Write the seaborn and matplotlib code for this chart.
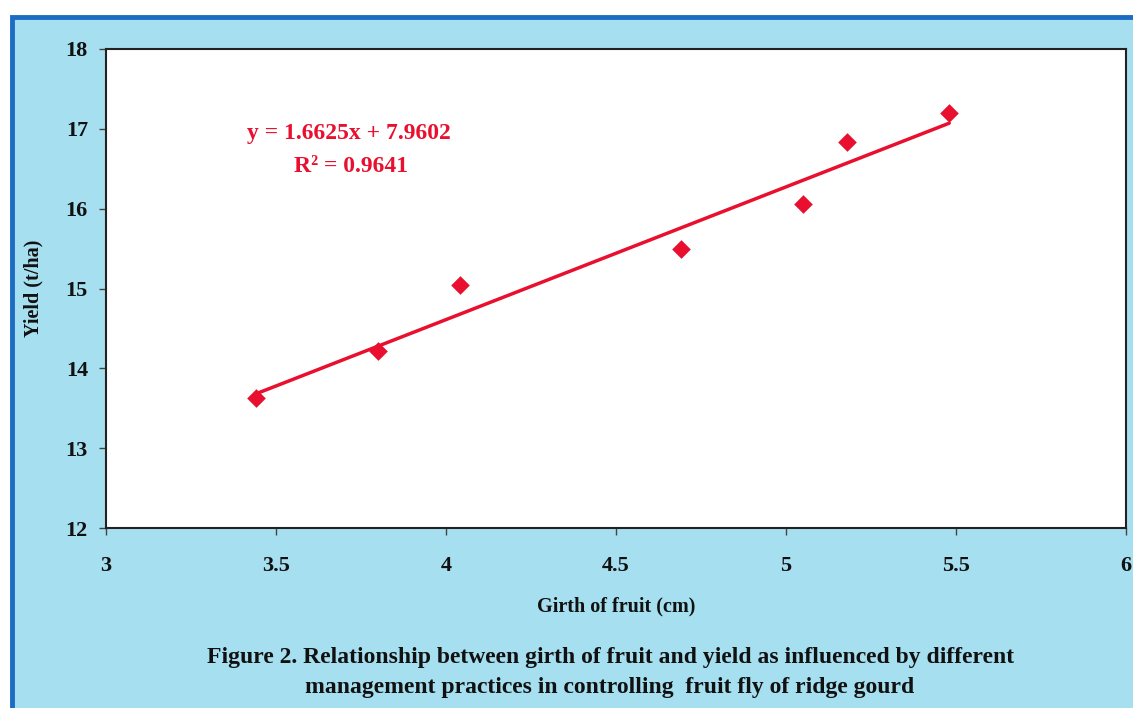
import numpy as np
import pandas as pd
import matplotlib
matplotlib.use("Agg")
import matplotlib.pyplot as plt
from matplotlib.patches import Rectangle
import seaborn as sns

# Data
girth = [3.44, 3.80, 4.04, 4.69, 5.05, 5.18, 5.48]
yield_tha = [13.63, 14.22, 15.04, 15.49, 16.06, 16.83, 17.20]
slope = 1.6625
intercept = 7.9602
r2 = 0.9641
x_ticks = [3, 3.5, 4, 4.5, 5, 5.5, 6]
x_tick_labels = ["3", "3.5", "4", "4.5", "5", "5.5", "6"]
y_ticks = [12, 13, 14, 15, 16, 17, 18]

sns.set_style("white")
plt.rcParams['font.family'] = ['Liberation Serif', 'DejaVu Serif']
plt.rcParams['font.weight'] = 'bold'
plt.rcParams['text.color'] = '#111111'
plt.rcParams['axes.labelcolor'] = '#111111'
plt.rcParams['xtick.color'] = '#111111'
plt.rcParams['ytick.color'] = '#111111'

W, H = 1133, 708
fig = plt.figure(figsize=(W / 100, H / 100), dpi=100, facecolor="white")

bg_blue = "#a6dff0"
border_blue = "#1d6cc4"
fig.patches.append(Rectangle((12 / W, -0.05), 1.1, 1 - 17 / H + 0.05,
                             transform=fig.transFigure, facecolor=bg_blue,
                             edgecolor=border_blue, linewidth=3.5, zorder=-5))

ax = fig.add_axes([106 / W, 1 - 528 / H, (1126 - 106) / W, (528 - 49) / H])
ax.set_zorder(2)
ax.set_facecolor("white")

df = pd.DataFrame({"girth": girth, "yield": yield_tha})
trend = pd.DataFrame({"x": [min(girth), max(girth)]})
trend["y"] = slope * trend["x"] + intercept

red = "#e8102e"
sns.lineplot(data=trend, x="x", y="y", ax=ax, color=red, linewidth=2.5, zorder=2)
sns.scatterplot(data=df, x="girth", y="yield", ax=ax, marker="D", s=90,
                color=red, edgecolor=red, linewidth=0, zorder=3)

ax.set_xlim(3, 6)
ax.set_ylim(12, 18)
ax.set_xticks(x_ticks)
ax.set_xticklabels(x_tick_labels)
ax.set_yticks(y_ticks)
ax.tick_params(axis="both", direction="out", length=5, width=1, color="#444444",
               labelcolor="#111111", labelsize=16, bottom=True, left=True)
ax.tick_params(axis="x", pad=15)
ax.tick_params(axis="y", pad=8)
for lbl in ax.get_xticklabels() + ax.get_yticklabels():
    lbl.set_fontweight("bold")
for s in ax.spines.values():
    s.set_color("#222222")
    s.set_linewidth(1.5)

ax.set_xlabel("Girth of fruit (cm)", fontsize=14.5, fontweight="bold", va="center")
ax.xaxis.set_label_coords(0.5, (528 - 606) / 479)
ax.set_ylabel("Yield (t/ha)", fontsize=14.5, fontweight="bold", va="center")
ax.yaxis.set_label_coords((33 - 106) / 1020, 0.5)

fig.text(349 / W, 1 - 133 / H, f"y = {slope}x + {intercept}", ha="center", va="center",
         color=red, fontsize=17, fontweight="bold")
fig.text(351 / W, 1 - 166 / H, f"R\u00b2 = {r2}", ha="center", va="center",
         color=red, fontsize=17, fontweight="bold")

fig.text(611 / W, 1 - 657 / H,
         "Figure 2. Relationship between girth of fruit and yield as influenced by different",
         ha="center", va="center", fontsize=17, fontweight="bold", color="#111111")
fig.text(610 / W, 1 - 688 / H,
         "management practices in controlling  fruit fly of ridge gourd",
         ha="center", va="center", fontsize=17, fontweight="bold", color="#111111")

fig.savefig("out.png", dpi=100, facecolor=fig.get_facecolor())
